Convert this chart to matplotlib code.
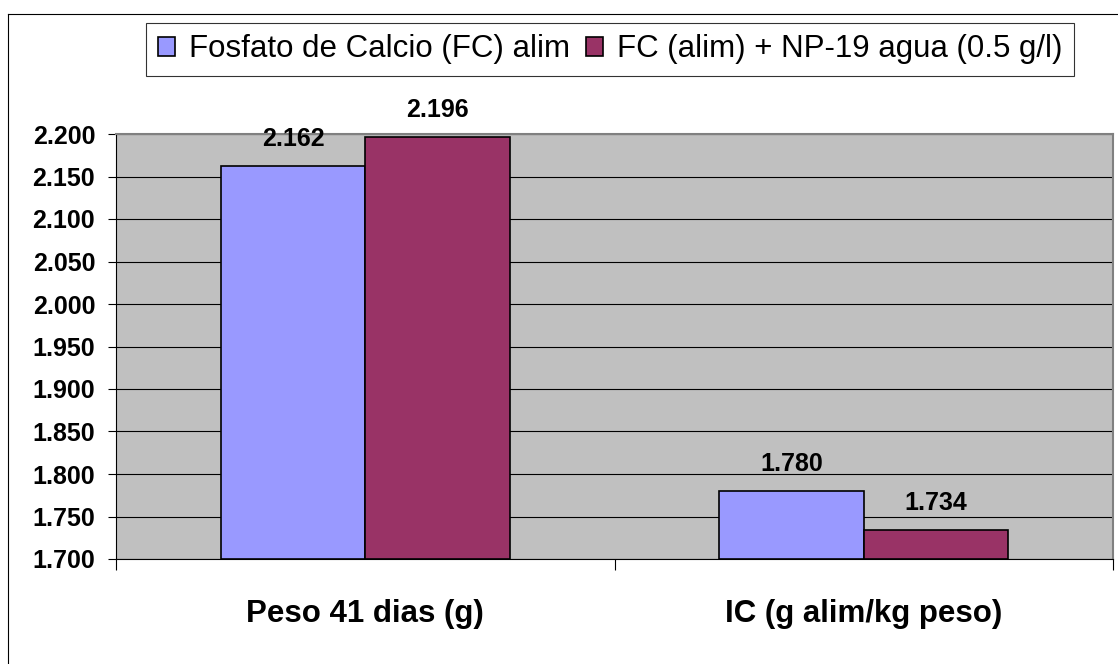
import matplotlib
matplotlib.use("Agg")
import matplotlib.pyplot as plt
from matplotlib.lines import Line2D
import numpy as np

categories = ["Peso 41 dias (g)", "IC (g alim/kg peso)"]
series_names = ["Fosfato de Calcio (FC) alim", "FC (alim) + NP-19 agua (0.5 g/l)"]
fc_alim = [2.162, 1.780]
fc_np19 = [2.196, 1.734]
y_ticks = [1.700, 1.750, 1.800, 1.850, 1.900, 1.950, 2.000, 2.050, 2.100, 2.150, 2.200]

COLORS = ["#9999FF", "#993366"]
plt.rcParams["font.family"] = ["Liberation Sans", "DejaVu Sans"]

W, H = 1118, 664
fig = plt.figure(figsize=(W / 100, H / 100), dpi=100)
ax = fig.add_axes([116 / W, 1 - 559 / H, (1113 - 116) / W, (559 - 134) / H])
ax.set_facecolor("#C0C0C0")

x = np.arange(len(categories))
bw = 0.29
base = y_ticks[0]
for i, (vals, name) in enumerate(zip([fc_alim, fc_np19], series_names)):
    off = (i - 0.5) * bw
    ax.bar(x + off, np.array(vals) - base, bw, bottom=base, color=COLORS[i],
           edgecolor="black", linewidth=1.2, label=name, zorder=3)
    # etiquetas de valor sobre cada barra
    for xi, v in zip(x + off, vals):
        ax.annotate(f"{v:.3f}", (xi, v), xytext=(0, 11), textcoords="offset points",
                    ha="center", va="bottom", fontsize=18, fontweight="bold", zorder=5)

ax.set_xlim(-0.5, 1.5)
ax.set_ylim(y_ticks[0], y_ticks[-1])
ax.set_yticks(y_ticks)
ax.set_yticklabels([f"{t:.3f}" for t in y_ticks], fontsize=18, fontweight="bold")
ax.tick_params(axis="y", direction="out", length=6, width=0.8, pad=9)
ax.grid(axis="y", color="black", linewidth=0.8, zorder=1)

ax.set_xticks(x)
ax.set_xticklabels(categories, fontsize=22.5, fontweight="bold")
ax.tick_params(axis="x", length=0, pad=29)
ax.set_xticks([-0.5, 0.5, 1.5], minor=True)
ax.tick_params(axis="x", which="minor", direction="out", length=8, width=0.8)

for s in ["top", "right"]:
    ax.spines[s].set_color("#808080")
    ax.spines[s].set_linewidth(1.5)
for s in ["left", "bottom"]:
    ax.spines[s].set_color("black")
    ax.spines[s].set_linewidth(0.8)

leg = fig.legend(loc="center", bbox_to_anchor=(610 / W, 1 - 49.5 / H), ncol=2,
                 fontsize=22.5, frameon=True, fancybox=False, handlelength=0.55,
                 handleheight=0.55, handletextpad=0.45, columnspacing=0.5,
                 borderpad=0.38, borderaxespad=0)
leg.get_frame().set_edgecolor("black")
leg.get_frame().set_linewidth(0.8)
for h in leg.legend_handles:
    h.set_edgecolor("black")
    h.set_linewidth(1.2)

# borde exterior del gráfico
fig.add_artist(Line2D([7.5 / W, 7.5 / W], [0, 1 - 13.5 / H], color="black", linewidth=0.8))
fig.add_artist(Line2D([7.5 / W, 1], [1 - 13.5 / H, 1 - 13.5 / H], color="black", linewidth=0.8))

fig.savefig("out.png", dpi=100)
